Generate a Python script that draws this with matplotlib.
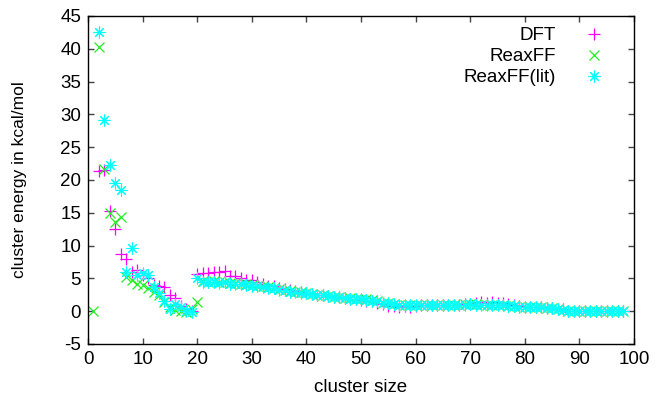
import matplotlib
matplotlib.use("Agg")
import matplotlib.pyplot as plt

plt.rcParams['font.family'] = ['Liberation Sans', 'DejaVu Sans']
plt.rcParams['axes.unicode_minus'] = False

# cluster sizes
dft_size = list(range(2, 99))
dft_energy = [21.4, 21.5, 15.2, 12.6, 8.7, 8.0, 6.0, 6.3, 5.5, 5.0,
              4.0, 3.9, 3.7, 2.4, 2.0, 0.8, 0.3, 0.1, 5.6, 5.8,
              5.8, 5.9, 6.0, 6.1, 5.3, 5.3, 5.0, 4.8, 4.8, 4.5,
              4.1, 3.9, 3.8, 3.6, 3.4, 3.3, 3.1, 2.9, 2.8, 2.6,
              2.5, 2.4, 2.3, 2.2, 2.1, 2.0, 1.9, 1.8, 1.7, 1.6,
              1.5, 1.3, 1.1, 0.8, 0.8, 0.7, 0.8, 0.7, 0.8, 0.9,
              0.9, 0.9, 0.9, 0.9, 1.0, 1.0, 1.0, 1.1, 1.1, 1.2,
              1.4, 1.3, 1.4, 1.3, 1.2, 1.1, 0.9, 0.8, 0.7, 0.7,
              0.6, 0.6, 0.5, 0.5, 0.4, 0.3, 0.1, 0.1, 0.1, 0.0,
              0.0, 0.1, 0.0, 0.1, 0.0, 0.1, 0.0]

reax_size = list(range(1, 99))
reax_energy = [0.0, 40.2, 21.7, 15.0, 13.6, 14.4, 5.2, 4.7, 4.2, 4.0,
               3.5, 3.0, 2.4, 1.4, 0.7, 0.2, 0.0, -0.1, 0.3, 1.4,
               4.6, 4.5, 4.6, 4.4, 4.5, 4.3, 4.3, 4.2, 4.2, 4.0,
               3.9, 3.8, 3.7, 3.6, 3.4, 3.3, 3.1, 3.0, 2.9, 2.7,
               2.6, 2.5, 2.4, 2.3, 2.2, 2.1, 2.0, 2.0, 1.9, 1.8,
               1.8, 1.7, 1.6, 1.3, 1.2, 1.1, 1.0, 1.0, 0.9, 0.9,
               0.9, 0.9, 0.9, 0.9, 0.9, 1.0, 1.0, 1.0, 1.1, 1.1,
               1.1, 1.0, 1.0, 1.0, 0.9, 0.9, 0.8, 0.8, 0.7, 0.7,
               0.7, 0.6, 0.6, 0.5, 0.5, 0.4, 0.2, 0.1, 0.1, 0.1,
               0.1, 0.1, 0.1, 0.1, 0.1, 0.1, 0.1, 0.1]

lit_size = list(range(2, 99))
lit_energy = [42.5, 29.1, 22.3, 19.6, 18.4, 5.9, 9.6, 5.5, 5.8, 5.5,
              3.7, 2.7, 1.5, 0.4, 1.1, 0.7, 0.0, -0.1, 5.0, 4.5,
              4.4, 4.5, 4.3, 4.4, 4.2, 4.2, 4.1, 4.0, 3.9, 3.8,
              3.7, 3.6, 3.5, 3.3, 3.2, 3.0, 2.9, 2.8, 2.7, 2.6,
              2.5, 2.4, 2.3, 2.2, 2.1, 2.0, 1.9, 1.9, 1.8, 1.7,
              1.6, 1.5, 1.3, 1.2, 1.1, 1.0, 1.0, 0.9, 0.9, 0.9,
              0.9, 0.9, 0.9, 0.9, 1.0, 1.0, 1.0, 1.0, 1.1, 1.0,
              1.0, 1.0, 0.9, 0.9, 0.9, 0.8, 0.8, 0.7, 0.7, 0.7,
              0.6, 0.6, 0.5, 0.5, 0.4, 0.2, 0.1, 0.1, 0.1, 0.1,
              0.1, 0.1, 0.1, 0.1, 0.1, 0.1, 0.1]

x_ticks = list(range(0, 101, 10))
y_ticks = list(range(-5, 46, 5))

fig = plt.figure(figsize=(6.56, 3.99), dpi=100)
ax = fig.add_axes([88/656, 55/399, (634-88)/656, (344-16)/399])

ax.plot(dft_size, dft_energy, linestyle='none', marker='+', color='#ff00ff',
        markersize=8.5, markeredgewidth=0.9, label='DFT')
ax.plot(reax_size, reax_energy, linestyle='none', marker='x', color='#22ee22',
        markersize=7.5, markeredgewidth=0.9, label='ReaxFF')
ax.plot(lit_size, lit_energy, linestyle='none', marker=(8, 2, 0), color='#00ffff',
        markersize=8.5, markeredgewidth=0.8, label='ReaxFF(lit)')

ax.set_xlim(0, 100)
ax.set_ylim(-5, 45)
ax.set_xticks(x_ticks)
ax.set_yticks(y_ticks)
ax.tick_params(direction='in', length=4, width=1, top=True, right=True,
               labelsize=13.5, pad=5, color='#444444')
for s in ax.spines.values():
    s.set_linewidth(1)
    s.set_color('black')

ax.set_xlabel('cluster size', fontsize=13.5, labelpad=8)
ax.set_ylabel('cluster energy in kcal/mol', fontsize=12.5, labelpad=24)

leg = ax.legend(loc='upper right', frameon=False, markerfirst=False, fontsize=13.5,
                handletextpad=1.05, labelspacing=0.2, handlelength=2.0,
                borderaxespad=0.2, bbox_to_anchor=(0.982, 1.0))

fig.savefig('out.png', dpi=100)
